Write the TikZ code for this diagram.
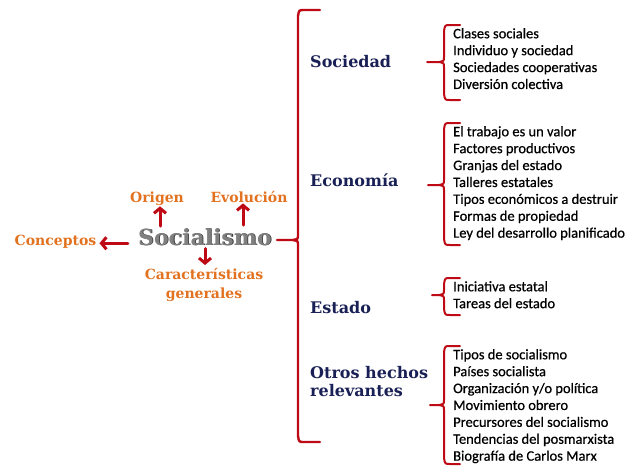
\documentclass[tikz,border=0pt]{standalone}
\usepackage{fontspec}
\setmainfont{Carlito}
\newfontfamily\titfont{DejaVu Serif}
\newfontfamily\itemfont[FakeBold=0.6]{Carlito}
\usetikzlibrary{arrows.meta}

\definecolor{llavered}{RGB}{190,10,20}
\definecolor{titnavy}{RGB}{25,32,85}
\definecolor{temaorange}{RGB}{226,114,32}

% llave: x, arriba, abajo, y de la punta, x de la punta, x de los ganchos
\newcommand{\llave}[7][]{%
  \draw[llavered,line width=2pt,#1] (#7,#3) -- (#2+6,#3) .. controls (#2+1,#3) .. (#2,#3+6)
    -- (#2,#5-5) .. controls (#2,#5-1) .. (#2-5,#5) -- (#6,#5);
  \draw[llavered,line width=2pt,#1] (#2-5,#5) .. controls (#2,#5+1) .. (#2,#5+5)
    -- (#2,#4-6) .. controls (#2+1,#4) .. (#2+6,#4) -- (#7,#4);
}

\begin{document}
\begin{tikzpicture}[x=1pt,y=-1pt,line cap=round,line join=round,
    tema/.style={font=\titfont\bfseries\fontsize{14}{16}\selectfont,text=temaorange,inner sep=0pt},
    titulo/.style={font=\titfont\bfseries\fontsize{16}{18.5}\selectfont,text=titnavy,inner sep=0pt,anchor=base west,align=left},
    lista/.style={font=\itemfont\fontsize{14.5}{16.9}\selectfont,inner sep=0pt,anchor=north west,align=left}]
    \useasboundingbox (0,0) rectangle (640,472);

    % Centro
    \node[font=\titfont\bfseries\fontsize{22}{24}\selectfont,text=black!80,inner sep=0pt,anchor=base] (socsombra) at (205.8,245.8) {Socialismo};
    \node[font=\titfont\bfseries\fontsize{22}{24}\selectfont,text=black!50,inner sep=0pt,anchor=base] (soc) at (205,245) {Socialismo};

    \node[tema,anchor=base] (origen) at (157,202) {Origen};
    \node[tema,anchor=base] (evol) at (249,202) {Evolución};
    \node[tema,anchor=base] (concep) at (55.5,245) {Conceptos};
    \node[tema,anchor=north,align=center,font=\titfont\bfseries\fontsize{14}{19}\selectfont] (carac) at (204,268) {Características\\generales};

    \draw[llavered,line width=3pt,-{Straight Barb[length=5pt,width=12pt]}] ([xshift=-45pt,yshift=2pt]soc.north) -- ([xshift=3pt,yshift=-1pt]origen.south);
    \draw[llavered,line width=3pt,-{Straight Barb[length=5pt,width=12pt]}] ([xshift=38pt,yshift=3pt]soc.north) -- ([xshift=-6pt,yshift=-1pt]evol.south);
    \draw[llavered,line width=3pt,-{Straight Barb[length=5pt,width=12pt]}] ([xshift=-10pt,yshift=-2pt]soc.west |- concep.east) -- ([xshift=3pt,yshift=-2pt]concep.east);
    \draw[llavered,line width=3pt,-{Straight Barb[length=5pt,width=12pt]}] ([yshift=-3pt]soc.south) -- ([xshift=1pt,yshift=3pt]carac.north);

    % Llave grande
    \llave[line width=2.4pt]{298}{10}{442}{240}{277}{320}

    % Sociedad
    \node[titulo] (socd) at (310,67) {Sociedad};
    \llave{444}{25}{100}{62}{427}{460}
    \node[lista] (socdl) at (453,28) {Clases sociales\\Individuo y sociedad\\Sociedades cooperativas\\Diversión colectiva};

    % Economía
    \node[titulo] (econ) at (310,186) {Economía};
    \llave{444}{123}{245}{185}{428}{460}
    \node[lista] (econl) at (453,126) {El trabajo es un valor\\Factores productivos\\Granjas del estado\\Talleres estatales\\Tipos económicos a destruir\\Formas de propiedad\\Ley del desarrollo planificado};

    % Estado
    \node[titulo] (est) at (310,313) {Estado};
    \llave{444}{278}{315}{295}{432}{460}
    \node[lista] (estl) at (453,281) {Iniciativa estatal\\Tareas del estado};

    % Otros hechos
    \node[titulo,anchor=north west] (otros) at (310,366) {Otros hechos\\relevantes};
    \llave{444}{346}{464}{405}{430}{460}
    \node[lista] (otrosl) at (453,349) {Tipos de socialismo\\Países socialista\\Organización y/o política\\Movimiento obrero\\Precursores del socialismo\\Tendencias del posmarxista\\Biografía de Carlos Marx};
\end{tikzpicture}
\end{document}
